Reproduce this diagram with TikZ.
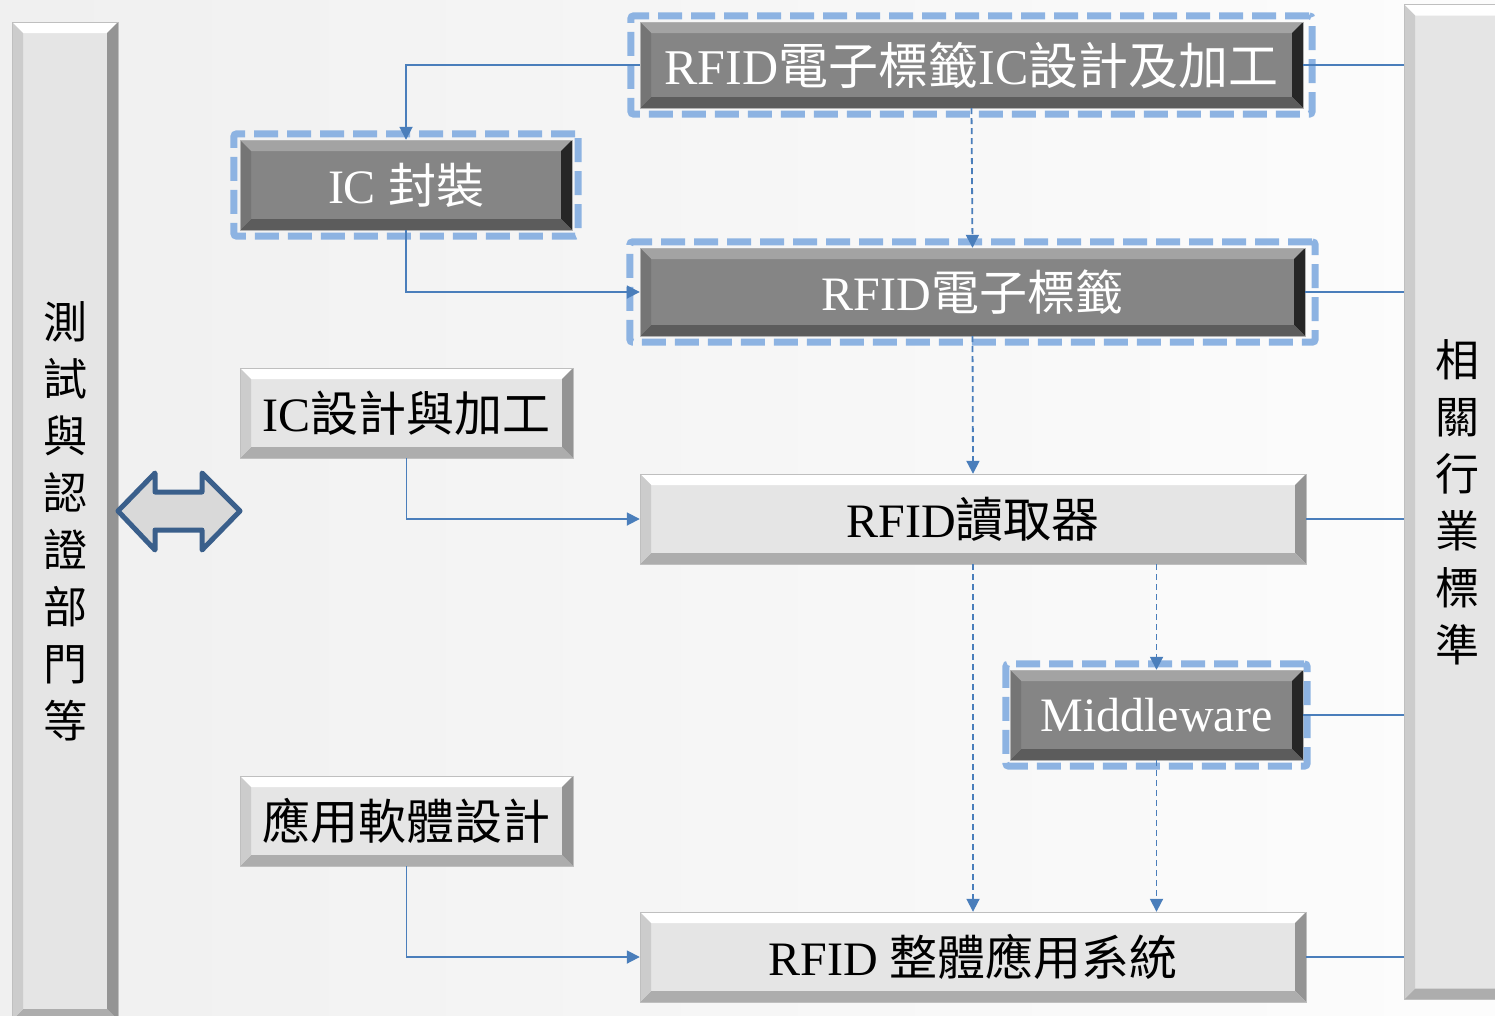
\documentclass[tikz,border=0pt]{standalone}
\usepackage{fontspec}
\setmainfont{Liberation Serif}
\newfontfamily\cjk{Noto Sans CJK TC}
\usetikzlibrary{arrows.meta,fit}

\newcommand{\zh}[1]{{\cjk #1}}

\definecolor{lineablu}{HTML}{4A7EBB}
\definecolor{cornice}{HTML}{8DB3E2}
\definecolor{frecciablu}{HTML}{3A5F8B}

\tikzset{
  % rilievo dei blocchi (alto, destra, basso, sinistra)
  rilievo/.style n args={4}{path picture={
    \coordinate (rnw) at (path picture bounding box.north west);
    \coordinate (rne) at (path picture bounding box.north east);
    \coordinate (rse) at (path picture bounding box.south east);
    \coordinate (rsw) at (path picture bounding box.south west);
    \fill[#1] (rnw) -- (rne) -- ([shift={(-11,11)}]rne) -- ([shift={(11,11)}]rnw) -- cycle;
    \fill[#2] (rne) -- (rse) -- ([shift={(-11,-11)}]rse) -- ([shift={(-11,11)}]rne) -- cycle;
    \fill[#3] (rse) -- (rsw) -- ([shift={(11,-11)}]rsw) -- ([shift={(-11,-11)}]rse) -- cycle;
    \fill[#4] (rsw) -- (rnw) -- ([shift={(11,11)}]rnw) -- ([shift={(11,-11)}]rsw) -- cycle;
  }},
  scuro/.style={rectangle, minimum height=88pt, fill=black!48, draw=black!30, thin,
    text=white, font=\fontsize{48}{48}\selectfont,
    rilievo={black!36}{black!85}{black!64}{black!54}},
  chiaro/.style={rectangle, minimum height=90pt, fill=black!10, draw=black!25, thin,
    text=black, font=\fontsize{48}{48}\selectfont,
    rilievo={white}{black!42}{black!32}{black!20}},
  barra/.style={chiaro, minimum width=106pt, align=center,
    font=\fontsize{44}{57}\selectfont},
  tratteggio/.style={draw=cornice, line width=7pt, dash pattern=on 24pt off 9pt,
    rounded corners=3pt, inner ysep=6pt},
  linea/.style={draw=lineablu, line width=1.8pt},
  freccia/.style={linea, -{Triangle[length=13pt,width=13pt]}},
  tratto/.style={freccia, dash pattern=on 6pt off 4pt}
}

\begin{document}
\begin{tikzpicture}[x=1pt,y=-1pt]
	% Sfondo
	\shade[left color=black!6, right color=black!1] (0,0) rectangle (1495,1015);
	\useasboundingbox (0,0) rectangle (1495,1015);

	% Barre laterali
	\node[barra, minimum height=998pt] (test) at (65,521)
	  {\zh{測}\\\zh{試}\\\zh{與}\\\zh{認}\\\zh{證}\\\zh{部}\\\zh{門}\\\zh{等}};
	\node[barra, minimum height=995pt] (standard) at (1457,502)
	  {\zh{相}\\\zh{關}\\\zh{行}\\\zh{業}\\\zh{標}\\\zh{準}};

	% Blocchi
	\node[scuro, minimum width=663pt, minimum height=86pt, font=\fontsize{50}{50}\selectfont]
	  (tagic) at (971.5,65) {RFID\zh{電子標籤}IC\zh{設計及加工}};
	\node[scuro, minimum width=332pt, minimum height=90pt] (icpack) at (406,185) {IC \zh{封裝}};
	\node[scuro, minimum width=665pt] (tag) at (972.5,292) {RFID\zh{電子標籤}};
	\node[chiaro, minimum width=333pt] (icdesign) at (406.5,413) {IC\zh{設計與加工}};
	\node[chiaro, minimum width=666pt] (reader) at (973,519) {RFID\zh{讀取器}};
	\node[scuro, minimum width=293pt, minimum height=90pt] (middleware) at (1156.5,715) {Middleware};
	\node[chiaro, minimum width=333pt] (appsw) at (406.5,821) {\zh{應用軟體設計}};
	\node[chiaro, minimum width=666pt] (system) at (973,957) {RFID \zh{整體應用系統}};

	% Cornici tratteggiate
	\node[tratteggio, fit=(tagic), inner xsep=9pt] {};
	\node[tratteggio, fit=(icpack), inner xsep=6pt] {};
	\node[tratteggio, fit=(tag), inner xsep=10pt] {};
	\node[tratteggio, fit=(middleware), inner xsep=4pt] {};

	% Collegamenti
	\draw[freccia] (tagic.west) -| (icpack.north);
	\draw[freccia] (icpack.south) |- (tag.west);
	\draw[freccia] (icdesign.south) |- (reader.west);
	\draw[freccia] (appsw.south) |- (system.west);
	\draw[tratto] (tagic.south) -- (tag.north);
	\draw[tratto] (tag.south) -- (reader.north);
	\draw[tratto] (reader.south) -- (system.north);
	\draw[tratto] (reader.south -| middleware.north) -- (middleware.north);
	\draw[tratto] (middleware.south) -- (system.north -| middleware.south);

	% Linee verso gli standard
	\foreach \b in {tagic,tag,reader,middleware,system}
	  \draw[linea] (\b.east) -- (\b.east -| standard.west);

	% Freccia doppia
	\draw[frecciablu, fill=black!15, line width=5pt, line join=round]
	  (118,511) -- (155,473) -- (155,492) -- (202,492) -- (202,473) -- (240,511)
	  -- (202,550) -- (202,530) -- (155,530) -- (155,550) -- cycle;

\end{tikzpicture}
\end{document}
